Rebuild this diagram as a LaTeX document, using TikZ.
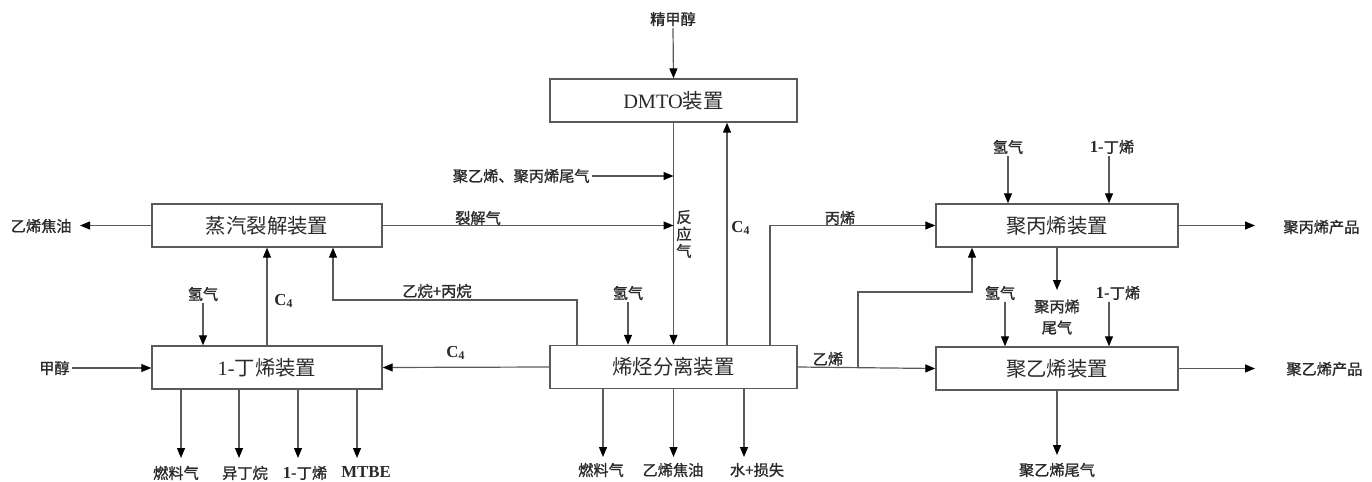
\documentclass[tikz,border=0pt]{standalone}
\usepackage{fontspec}
\setmainfont{Liberation Serif}
\newfontfamily\cjk{Noto Sans CJK SC}
\newfontfamily\cjkb[FakeBold=1.2]{Noto Sans CJK SC}
\usetikzlibrary{arrows.meta}
\newcommand{\zh}[1]{{\cjk #1}}
\newcommand{\zb}[1]{{\cjkb #1}}
\newcommand{\lb}[1]{{\fontsize{8.4pt}{9pt}\selectfont\bfseries #1}}
\definecolor{ln}{HTML}{5A5A5A}
\definecolor{tx}{HTML}{2A2A2A}
\tikzset{
  box/.style={draw=ln, line width=0.7pt, minimum height=21.5pt, inner sep=0pt, text=tx,
    font=\fontsize{10.2pt}{12pt}\selectfont},
  lab/.style={inner sep=1pt, text=tx, font=\fontsize{7.6pt}{9pt}\selectfont, align=center},
  arr/.style={draw=ln, line width=0.6pt, -{Triangle[length=5pt,width=4pt,fill=black,color=black]}},
  ln/.style={draw=ln, line width=0.6pt}
}
\begin{document}
\begin{tikzpicture}[x=0.5pt,y=-0.5pt]
\useasboundingbox (0,0) rectangle (1372,482);
% boxes
\node[box, minimum width=123.5pt] (dmto) at (673.5,100.5) {DMTO\zh{装置}};
\node[box, minimum width=115pt] (crack) at (267,225.5) {\zh{蒸汽裂解装置}};
\node[box, minimum width=115pt] (but) at (267,367.5) {1-\zh{丁烯装置}};
\node[box, minimum width=123.5pt] (sep) at (673.5,367) {\zh{烯烃分离装置}};
\node[box, minimum width=121pt] (pp) at (1057,225.5) {\zh{聚丙烯装置}};
\node[box, minimum width=121pt] (pe) at (1057,368.5) {\zh{聚乙烯装置}};
% labels
\node[lab] (meth) at (673,19) {\zb{精甲醇}};
\node[lab, anchor=east] (tail) at (592,176) {\zb{聚乙烯、聚丙烯尾气}};
\node[lab] (cg) at (478,218) {\zb{裂解气}};
\node[lab, font=\fontsize{7.6pt}{8.5pt}\selectfont] (rg) at (684,234) {\zb{反}\\\zb{应}\\\zb{气}};
\node[lab] (c4a) at (741,228) {\lb{C\textsubscript{4}}};
\node[lab] (pr) at (840,218) {\zb{丙烯}};
\node[lab, anchor=east] (tar) at (74,226) {\zb{乙烯焦油}};
\node[lab, anchor=east] (meoh) at (72,368) {\zb{甲醇}};
\node[lab] (h2a) at (203,294) {\zb{氢气}};
\node[lab] (c4b) at (284,301) {\lb{C\textsubscript{4}}};
\node[lab] (eth) at (437,291) {\zb{乙烷+丙烷}};
\node[lab] (c4c) at (456,353) {\lb{C\textsubscript{4}}};
\node[lab] (h2b) at (628,293) {\zb{氢气}};
\node[lab] (et) at (828,359) {\zb{乙烯}};
\node[lab] (h2c) at (1008,147) {\zb{氢气}};
\node[lab] (bt1) at (1112,147) {\lb{1-}\zb{丁烯}};
\node[lab] (h2d) at (1000,293) {\zb{氢气}};
\node[lab] (bt2) at (1118,293) {\lb{1-}\zb{丁烯}};
\node[lab, font=\fontsize{7.6pt}{10.5pt}\selectfont] (pptail) at (1057,317) {\zb{聚丙烯}\\\zb{尾气}};
\node[lab, anchor=west] (ppp) at (1281,227) {\zb{聚丙烯产品}};
\node[lab, anchor=west] (pep) at (1284,369) {\zb{聚乙烯产品}};
\node[lab] (petail) at (1057,470) {\zb{聚乙烯尾气}};
\node[lab] (o1) at (176,473) {\zb{燃料气}};
\node[lab] (o2) at (245,473) {\zb{异丁烷}};
\node[lab] (o3) at (305,473) {\lb{1-}\zb{丁烯}};
\node[lab] (o4) at (366,472) {\lb{MTBE}};
\node[lab] (s1) at (601,470) {\zb{燃料气}};
\node[lab] (s2) at (673,470) {\zb{乙烯焦油}};
\node[lab] (s3) at (757,470) {\zb{水+损失}};
% helper coordinates
\coordinate (xc4) at (727,0);
\coordinate (xpr) at (770,0);
\coordinate (xea) at (577,0);
\coordinate (ecorner) at (333,300);
\coordinate (xbr) at (858,0);
\coordinate (bcorner) at (972,292);
\coordinate (ppend) at (1255,0);
\coordinate (ypt) at (0,290);
\coordinate (ypb) at (0,455);
% connectors
\draw[arr] (meth.south) -- (dmto.north);
\draw[arr] (dmto.south) -- (sep.north);
\draw[arr] (tail.east) -- (tail.east -| dmto.south);
\draw[arr] (crack.east) -- (crack.east -| dmto.south);
\draw[arr] (sep.north -| xc4) -- (dmto.south -| xc4);
\draw[arr] (sep.north -| xpr) |- (pp.west);
\draw[arr] (sep.north -| xea) |- (ecorner) -- (crack.south -| ecorner);
\draw[arr] (h2b.south) -- (sep.north -| h2b.south);
\draw[arr] (sep.west) -- (but.east);
\draw[arr] (sep.east) -- (pe.west);
\draw[arr] (sep.east -| xbr) |- (bcorner) -- (pp.south -| bcorner);
\draw[arr] (pp.south) -- (pp.south |- ypt);
\draw[arr] (h2c.south) -- (pp.north -| h2c.south);
\draw[arr] (bt1.south -| 1109,0) -- (pp.north -| 1109,0);
\draw[arr] (h2d.south -| 1005,0) -- (pe.north -| 1005,0);
\draw[arr] (bt2.south -| 1109,0) -- (pe.north -| 1109,0);
\draw[arr] (pp.east) -- (pp.east -| ppend);
\draw[arr] (pe.east) -- (pe.east -| ppend);
\draw[arr] (pe.south) -- (pe.south |- ypb);
\draw[arr] (crack.west) -- (80,225.5);
\draw[arr] (meoh.east) -- (meoh.east -| but.west);
\draw[arr] (h2a.south) -- (but.north -| h2a.south);
\draw[arr] (but.north) -- (crack.south);
\draw[arr] (but.south -| 181,0) -- (181,458);
\draw[arr] (but.south -| 239,0) -- (239,458);
\draw[arr] (but.south -| 298,0) -- (298,458);
\draw[arr] (but.south -| 357,0) -- (357,458);
\draw[arr] (sep.south -| 603,0) -- (603,457);
\draw[arr] (sep.south) -- (673.5,457);
\draw[arr] (sep.south -| 744,0) -- (744,457);
\end{tikzpicture}
\end{document}
